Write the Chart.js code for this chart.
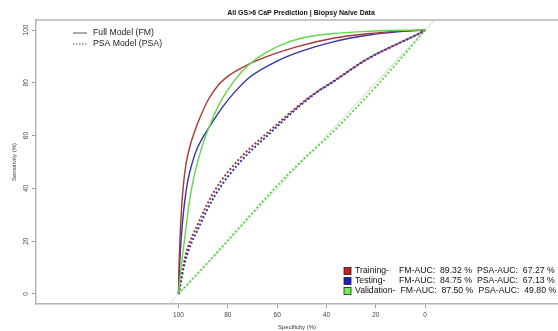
<!DOCTYPE html>
<html>
<head>
<meta charset="utf-8">
<script src="https://cdn.jsdelivr.net/npm/chart.js@4.4.1/dist/chart.umd.min.js"></script>
<style>
  html, body { margin: 0; padding: 0; background: #fff; }
  #wrap { width: 558px; height: 331px; }
</style>
</head>
<body>
<div id="wrap"><canvas id="chart" width="558" height="331"></canvas></div>
<script>
// ======================
// DATA
// ======================
const title = "All GS>6 CaP Prediction | Biopsy Naive Data";
const tickValues = [0, 20, 40, 60, 80, 100];

const groups = ["Training", "Testing", "Validation"];
const fmAuc = [89.32, 84.75, 87.50];
const psaAuc = [67.27, 67.13, 49.80];

// Full model curves: specificity / sensitivity (%)
const fmTrainSpec = [100, 99.8, 99.4, 98.8, 98, 97, 95.5, 93.5, 91, 88, 84, 79.5, 74.2, 64, 50.7, 37.3, 23.5, 10.1, 0];
const fmTrainSens = [0, 10, 21, 32, 41.5, 49, 55.5, 61.5, 67.5, 73.5, 79, 82.8, 85.8, 90, 94, 96.9, 98.6, 99.6, 100];

const fmTestSpec = [100, 99.7, 99.2, 98.5, 97.5, 96.2, 94.5, 92.5, 90, 86, 82, 77.7, 70.9, 60.1, 50.7, 37.3, 23.5, 10.1, 0];
const fmTestSens = [0, 8, 17, 26, 35, 43, 49.5, 55, 59.5, 65.5, 71, 76, 82.3, 88.2, 91.8, 95.5, 98, 99.4, 100];

const fmValidSpec = [100, 99, 97.7, 96.4, 95, 93.5, 91.9, 89.5, 87.1, 84, 80.4, 74.3, 68.9, 60, 50.7, 37.2, 23.6, 10, 0];
const fmValidSens = [0, 9.5, 19.5, 29.3, 38.3, 45.3, 51.3, 58.5, 64.3, 71, 76.8, 84.3, 88.8, 93.7, 96.8, 98.7, 99.5, 99.9, 100];

// PSA model curves
const psaTrainSpec = [100, 97.3, 91.9, 85.1, 75.5, 62.8, 50.7, 43.9, 37.2, 23.6, 10.1, 3.4, 0];
const psaTrainSens = [0, 14, 27, 39.5, 51, 62, 71.8, 76.6, 80.6, 89, 95.3, 98.2, 100];

const psaTestSpec = [100, 97.3, 91.9, 85.1, 75.5, 62.8, 50.7, 43.9, 37.2, 23.6, 10.1, 3.4, 0];
const psaTestSens = [0, 12.5, 25, 37.5, 49.5, 61, 71.4, 76.4, 80.4, 88.9, 95.2, 98.2, 100];

const psaValidSpec = [100, 87, 75, 60, 50, 40, 30, 20, 10, 0];
const psaValidSens = [0, 13, 25.5, 41, 50.5, 59, 68.5, 78.5, 89, 100];

// axis limits (R extends the x range because of asp = 1)
const xMin = -53.9, xMax = 157.8;
const yMin = -3.8, yMax = 103.8;

// colours
const lineColors = ["#a83636", "#3434aa", "#5fd84a"];
const boxColors = ["#c81e1e", "#1e1ec8", "#6ef050"];
const FONT = "'Liberation Sans', Arial, sans-serif";

function pts(xs, ys) {
  return xs.map((x, i) => ({ x: x, y: ys[i] }));
}

function curve(xs, ys, color, dashed, order) {
  return {
    data: pts(xs, ys),
    borderColor: color,
    borderWidth: dashed ? 2 : 1.4,
    borderDash: dashed ? [2, 2] : [],
    pointRadius: 0,
    cubicInterpolationMode: "monotone",
    order: order
  };
}

// ======================
// DECORATIONS (frame top, title, legends)
// ======================
const decor = {
  id: "decor",
  afterDraw(chart) {
    const ctx = chart.ctx;
    const a = chart.chartArea;
    ctx.save();

    // top frame line
    ctx.strokeStyle = "#b4b4b4";
    ctx.lineWidth = 1.5;
    ctx.beginPath();
    ctx.moveTo(a.left, a.top);
    ctx.lineTo(a.right, a.top);
    ctx.stroke();

    // title
    ctx.fillStyle = "#111";
    ctx.font = "bold 7px " + FONT;
    ctx.textAlign = "center";
    ctx.textBaseline = "middle";
    ctx.fillText(title, 301, 13);

    // top-left legend (line types)
    ctx.font = "8.7px " + FONT;
    ctx.textAlign = "left";
    const lt = [["Full Model (FM)", []], ["PSA Model (PSA)", [1.5, 1.5]]];
    lt.forEach((r, i) => {
      const y = 33 + i * 11;
      ctx.strokeStyle = "#555";
      ctx.lineWidth = 1;
      ctx.setLineDash(r[1]);
      ctx.beginPath();
      ctx.moveTo(73, y);
      ctx.lineTo(87, y);
      ctx.stroke();
      ctx.setLineDash([]);
      ctx.fillStyle = "#222";
      ctx.fillText(r[0], 93, y);
    });

    // bottom-right legend (AUCs)
    groups.forEach((g, i) => {
      const y = 271 + i * 10;
      ctx.fillStyle = boxColors[i];
      ctx.fillRect(344, y - 3.5, 7, 7);
      ctx.strokeStyle = "#222";
      ctx.lineWidth = 0.8;
      ctx.strokeRect(344, y - 3.5, 7, 7);

      ctx.fillStyle = "#111";
      const name = g + "-";
      ctx.fillText(name, 355, y);
      const x2 = Math.max(399, 355 + ctx.measureText(name).width + 5);
      ctx.fillText("FM-AUC:  " + fmAuc[i].toFixed(2) + " %", x2, y);
      ctx.fillText("PSA-AUC:  " + psaAuc[i].toFixed(2) + " %", x2 + 78, y);
    });

    ctx.restore();
  }
};

// ======================
// CHART
// ======================
const diag = [xMin, xMax].map(x => ({ x: x, y: 100 - x }));

const datasets = [
  curve(fmTrainSpec, fmTrainSens, lineColors[0], false, 2),
  curve(fmTestSpec, fmTestSens, lineColors[1], false, 3),
  curve(fmValidSpec, fmValidSens, lineColors[2], false, 1),
  curve(psaTestSpec, psaTestSens, lineColors[1], true, 4),
  curve(psaTrainSpec, psaTrainSens, lineColors[0], true, 5),
  curve(psaValidSpec, psaValidSens, lineColors[2], true, 6),
  { data: diag, borderColor: "#d0d0d0", borderWidth: 1, pointRadius: 0, order: 9 }
];

const axisCommon = {
  type: "linear",
  grid: { drawOnChartArea: false, drawTicks: true, tickLength: 4, color: "#999", lineWidth: 1 },
  border: { display: true, color: "#b4b4b4", width: 1.5 },
  afterBuildTicks: (s) => { s.ticks = tickValues.map(v => ({ value: v })); }
};

new Chart(document.getElementById("chart"), {
  type: "line",
  data: { datasets: datasets },
  plugins: [decor],
  options: {
    responsive: false,
    animation: false,
    layout: { padding: { top: 20, left: 0, right: 0, bottom: 0 } },
    plugins: { legend: { display: false }, tooltip: { enabled: false }, title: { display: false } },
    scales: {
      x: Object.assign({}, axisCommon, {
        min: xMin, max: xMax, reverse: true,
        ticks: { color: "#444", font: { family: FONT, size: 6.5 }, padding: 3, maxRotation: 0, autoSkip: false },
        title: { display: true, text: "Specificity (%)", color: "#333", font: { family: FONT, size: 6 }, padding: 0 },
        afterFit: (s) => { s.height = 27; }
      }),
      y: Object.assign({}, axisCommon, {
        min: yMin, max: yMax,
        ticks: { color: "#444", font: { family: FONT, size: 6.5 }, padding: 0, minRotation: 90, maxRotation: 90, crossAlign: "center", autoSkip: false },
        title: { display: true, text: "Sensitivity (%)", color: "#333", font: { family: FONT, size: 6 }, padding: { top: 11, bottom: 0 } },
        afterFit: (s) => { s.width = 36; }
      })
    }
  }
});
</script>
</body>
</html>
